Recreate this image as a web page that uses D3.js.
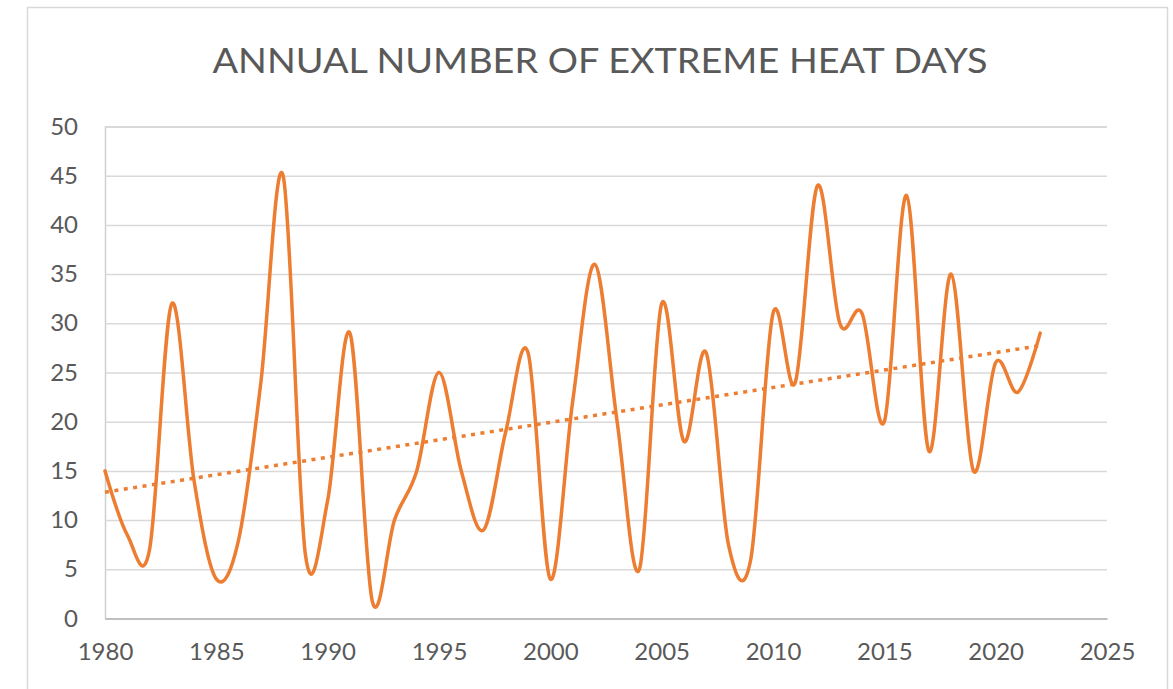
<!DOCTYPE html>
<html>
<head>
<meta charset="utf-8">
<script src="https://cdn.jsdelivr.net/npm/d3@7"></script>
<style>
  html, body { margin: 0; padding: 0; background: #ffffff; }
  svg { display: block; }
</style>
</head>
<body>
<svg id="chart" width="1173" height="689"></svg>
<script>
// ---- data ----
const title = "ANNUAL NUMBER OF EXTREME HEAT DAYS";
const years = [1980,1981,1982,1983,1984,1985,1986,1987,1988,1989,
               1990,1991,1992,1993,1994,1995,1996,1997,1998,1999,
               2000,2001,2002,2003,2004,2005,2006,2007,2008,2009,
               2010,2011,2012,2013,2014,2015,2016,2017,2018,2019,
               2020,2021,2022];
const heatDays = [15,8.5,7,32,14,4,8,24,45,6.5,
                  12,29,1.8,10,15,25,15,9,19,27,
                  4,22,36,20,5,32,18,27,7.5,6,
                  31,24,44,30,31,20,43,17,35,15,
                  26,23,29];
const xTicks = [1980,1985,1990,1995,2000,2005,2010,2015,2020,2025];
const yTicks = [0,5,10,15,20,25,30,35,40,45,50];

// ---- layout ----
const plot = { left: 105, right: 1107, top: 126.5, bottom: 618.5 };
const orange = "#ED7D31";
const textGrey = "#595959";
const font = "Lato, 'Open Sans', 'Liberation Sans', sans-serif";

const svg = d3.select("#chart");

const x = d3.scaleLinear().domain([1980, 2025]).range([plot.left, plot.right]);
const y = d3.scaleLinear().domain([0, 50]).range([plot.bottom, plot.top]);

// chart area border
svg.append("rect")
  .attr("x", 27.5).attr("y", 7.5)
  .attr("width", 1140).attr("height", 700)
  .attr("fill", "#ffffff")
  .attr("stroke", "#d9d9d9").attr("stroke-width", 1.5);

// title
svg.append("text")
  .attr("x", 600).attr("y", 73)
  .attr("text-anchor", "middle")
  .attr("font-family", font)
  .attr("font-size", 34)
  .attr("fill", textGrey)
  .attr("textLength", 775)
  .attr("lengthAdjust", "spacingAndGlyphs")
  .text(title);

// gridlines (y axis)
const yAxis = d3.axisLeft(y).tickValues(yTicks)
  .tickSize(-(plot.right - plot.left)).tickPadding(27).tickFormat(d3.format("d"));
const gY = svg.append("g").attr("transform", `translate(${plot.left},0)`).call(yAxis);
gY.select(".domain").attr("stroke", "#d0d0d0").attr("stroke-width", 1.5);
gY.selectAll(".tick line").attr("stroke", "#d9d9d9").attr("stroke-width", 1.5);
gY.selectAll(".tick text")
  .attr("font-family", font).attr("font-size", 24).attr("fill", textGrey);

// x axis
const xAxis = d3.axisBottom(x).tickValues(xTicks).tickSize(0).tickPadding(24).tickFormat(d3.format("d"));
const gX = svg.append("g").attr("transform", `translate(0,${plot.bottom})`).call(xAxis);
gX.select(".domain").attr("stroke", "#bfbfbf").attr("stroke-width", 2);
gX.selectAll(".tick text")
  .attr("font-family", font).attr("font-size", 24).attr("fill", textGrey);

const series = years.map((yr, i) => ({ year: yr, value: heatDays[i] }));

// linear trendline (least squares)
const n = series.length;
const mx = d3.mean(series, d => d.year);
const my = d3.mean(series, d => d.value);
const slope = d3.sum(series, d => (d.year - mx) * (d.value - my)) / d3.sum(series, d => (d.year - mx) ** 2);
const intercept = my - slope * mx;
const trend = [years[0], years[n - 1]].map(yr => ({ year: yr, value: intercept + slope * yr }));

svg.append("path")
  .datum(trend)
  .attr("fill", "none")
  .attr("stroke", orange)
  .attr("stroke-width", 3.5)
  .attr("stroke-dasharray", "4,5.5")
  .attr("d", d3.line().x(d => x(d.year)).y(d => y(d.value)));

// smoothed data line
svg.append("path")
  .datum(series)
  .attr("fill", "none")
  .attr("stroke", orange)
  .attr("stroke-width", 3.5)
  .attr("stroke-linejoin", "round")
  .attr("stroke-linecap", "round")
  .attr("d", d3.line().x(d => x(d.year)).y(d => y(d.value)).curve(d3.curveCatmullRom.alpha(0)));
</script>
</body>
</html>
